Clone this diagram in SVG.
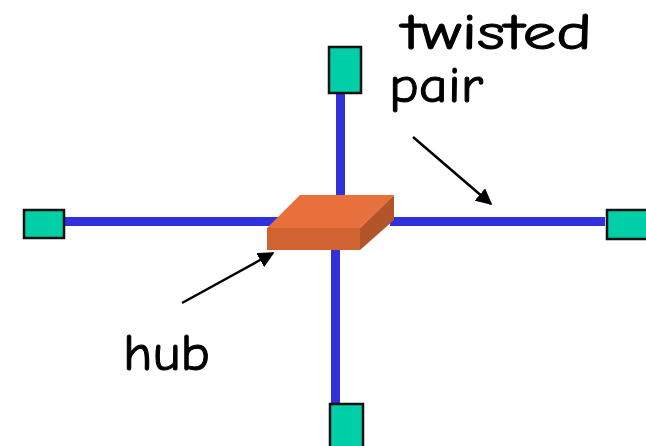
<svg xmlns="http://www.w3.org/2000/svg" width="646" height="446" viewBox="0 0 646 446">
<style>
.cable{stroke:#3131DC;stroke-width:9;fill:none}
.host{fill:#00CFA8;stroke:#111;stroke-width:2.5}
.lbl{font-family:"Comic Neue","DejaVu Sans","Liberation Sans",sans-serif;font-size:51px;fill:#000;stroke:#000;stroke-width:1}
.ptr{stroke:#000;stroke-width:2.5;fill:none}
</style>
<defs>
<marker id="ah" viewBox="0 0 10 10" refX="9" refY="5" markerWidth="6.5" markerHeight="6.5" orient="auto" markerUnits="strokeWidth">
<path d="M0,0 L10,5 L0,10 z" fill="#000"/>
</marker>
</defs>
<rect width="646" height="446" fill="#fff"/>
<g id="connectors">
<line class="cable" x1="340.5" y1="92" x2="340.5" y2="200"/>
<line class="cable" x1="63" y1="221.5" x2="282" y2="221.5"/>
<line class="cable" x1="390" y1="221.5" x2="605" y2="221.5"/>
<line class="cable" x1="335.5" y1="248" x2="335.5" y2="405"/>
<line class="ptr" x1="413" y1="137" x2="491" y2="204" marker-end="url(#ah)"/>
<line class="ptr" x1="182" y1="303" x2="273" y2="253" marker-end="url(#ah)"/>
</g>
<g id="hub">
<polygon points="300,195 394,195 360,228 267,228" fill="#E8703C"/>
<polygon points="267,228 360,228 360,250 267,250" fill="#CF6332"/>
<polygon points="360,228 394,195 394,220 360,250" fill="#B3542A"/>
</g>
<g id="host-top"><rect class="host" x="329" y="47" width="32" height="46"/></g>
<g id="host-left"><rect class="host" x="24" y="210" width="40" height="28"/></g>
<g id="host-right"><rect class="host" x="607" y="210" width="44" height="29"/></g>
<g id="host-bottom"><rect class="host" x="330" y="404" width="33" height="50"/></g>
<g id="labels">
<text class="lbl" x="402" y="49" textLength="190" lengthAdjust="spacingAndGlyphs">twisted</text>
<text class="lbl" x="389" y="102" textLength="94" lengthAdjust="spacingAndGlyphs">pair</text>
<text class="lbl" x="123" y="370" textLength="87" lengthAdjust="spacingAndGlyphs">hub</text>
</g>
</svg>
